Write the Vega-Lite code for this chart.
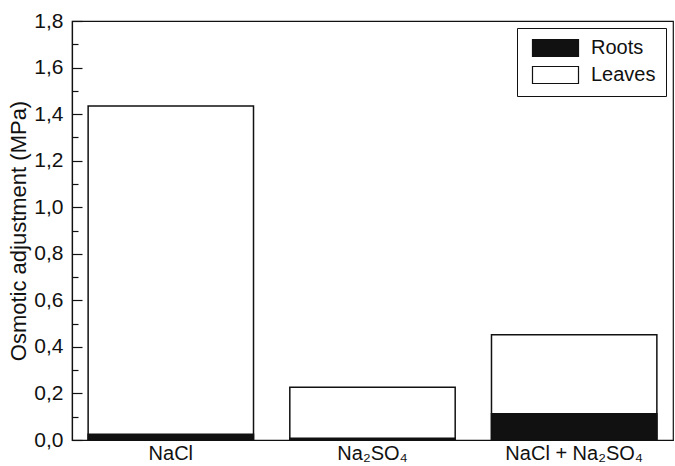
{
  "$schema": "https://vega.github.io/schema/vega-lite/v6.json",
  "width": 601,
  "height": 419,
  "autosize": {"type": "none"},
  "padding": {"left": 72, "top": 21, "right": 2, "bottom": 26},
  "background": "white",
  "config": {
    "font": "Liberation Sans",
    "view": {"stroke": "#111", "strokeWidth": 1.2},
    "axis": {"domainColor": "#111", "tickColor": "#111", "labelColor": "#111", "titleColor": "#111", "labelFont": "Liberation Sans", "titleFont": "Liberation Sans", "labelFontSize": 20, "titleFontSize": 22, "titleFontWeight": "normal", "grid": false},
    "legend": {"labelFont": "Liberation Sans", "labelFontSize": 20}
  },
  "data": {
    "values": [
      {"group": "NaCl", "organ": "Leaves", "value": 1.435},
      {"group": "Na₂SO₄", "organ": "Leaves", "value": 0.227},
      {"group": "NaCl + Na₂SO₄", "organ": "Leaves", "value": 0.452},
      {"group": "NaCl", "organ": "Roots", "value": 0.025},
      {"group": "Na₂SO₄", "organ": "Roots", "value": 0.007},
      {"group": "NaCl + Na₂SO₄", "organ": "Roots", "value": 0.113}
    ]
  },
  "mark": {"type": "bar", "stroke": "#111", "strokeWidth": 1.5},
  "encoding": {
    "x": {
      "field": "group",
      "type": "nominal",
      "sort": ["NaCl", "Na₂SO₄", "NaCl + Na₂SO₄"],
      "scale": {"paddingInner": 0.18, "paddingOuter": 0.08},
      "axis": {"title": null, "labelAngle": 0, "ticks": false, "labelPadding": 3, "domainWidth": 1.2, "labelFontSize": 20}
    },
    "y": {
      "field": "value",
      "type": "quantitative",
      "stack": null,
      "scale": {"domain": [0, 1.8], "nice": false, "zero": true},
      "axis": {
        "title": "Osmotic adjustment (MPa)",
        "values": [0, 0.1, 0.2, 0.3, 0.4, 0.5, 0.6, 0.7, 0.8, 0.9, 1.0, 1.1, 1.2, 1.3, 1.4, 1.5, 1.6, 1.7, 1.8],
        "labelExpr": "round(datum.value*10) % 2 === 0 ? replace(format(datum.value, '.1f'), '.', ',') : ''",
        "tickSize": {"condition": {"test": "round(datum.value*10) % 2 === 0", "value": -10}, "value": -6},
        "tickWidth": 1.2,
        "domainWidth": 1.2,
        "labelFontSize": 21,
        "titleFontSize": 22,
        "labelPadding": 19,
        "titlePadding": 3
      }
    },
    "color": {
      "field": "organ",
      "type": "nominal",
      "scale": {"domain": ["Roots", "Leaves"], "range": ["#111111", "#ffffff"]},
      "legend": {
        "title": null,
        "orient": "top-right",
        "offset": 7,
        "strokeColor": "#111",
        "padding": 10,
        "symbolType": "M-2.706,-1H2.706V1H-2.706Z",
        "symbolSize": 289,
        "symbolOffset": 18.5,
        "labelOffset": 25.5,
        "symbolStrokeColor": "#111",
        "symbolStrokeWidth": 1.2,
        "labelFontSize": 20,
        "labelColor": "#111",
        "rowPadding": 5
      }
    }
  }
}
